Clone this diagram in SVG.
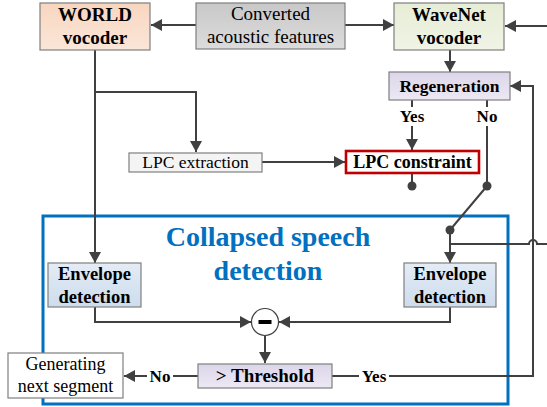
<svg xmlns="http://www.w3.org/2000/svg" width="547" height="407" viewBox="0 0 547 407">
<style>
.box{stroke:#7f7f7f;stroke-width:1.2}
.t{font-family:"Liberation Serif","Times New Roman",serif;fill:#000;text-anchor:middle}
.b{font-weight:bold}
.ln{fill:none;stroke:#404040;stroke-width:2}
.arr{marker-end:url(#ah)}
.dot{fill:#404040}
</style>
<defs>
<marker id="ah" markerUnits="userSpaceOnUse" markerWidth="12" markerHeight="12" refX="11" refY="6" orient="auto">
<path d="M0,0 L11,6 L0,12 z" fill="#404040"/>
</marker>
<linearGradient id="gWorld" x1="0" y1="0" x2="0" y2="1"><stop offset="0" stop-color="#f8d6c0"/><stop offset="1" stop-color="#fbe6d8"/></linearGradient>
<linearGradient id="gConv" x1="0" y1="0" x2="0" y2="1"><stop offset="0" stop-color="#c8c8c8"/><stop offset="1" stop-color="#dcdcdc"/></linearGradient>
<linearGradient id="gWave" x1="0" y1="0" x2="0" y2="1"><stop offset="0" stop-color="#e6edd6"/><stop offset="1" stop-color="#f0f4e6"/></linearGradient>
<linearGradient id="gLav" x1="0" y1="0" x2="0" y2="1"><stop offset="0" stop-color="#ddd6ea"/><stop offset="1" stop-color="#ece8f3"/></linearGradient>
<linearGradient id="gEnv" x1="0" y1="0" x2="0" y2="1"><stop offset="0" stop-color="#e4ecf6"/><stop offset="1" stop-color="#cddcec"/></linearGradient>
</defs>
<rect width="547" height="407" fill="#fff"/>

<g id="collapsed-speech-detection">
<rect x="43" y="216" width="465" height="188" fill="none" stroke="#0070c0" stroke-width="3"/>
<text class="t b" x="268" y="246" font-size="28" style="fill:#0070c0">Collapsed speech</text>
<text class="t b" x="268" y="280" font-size="28" style="fill:#0070c0">detection</text>
</g>

<g id="connectors">
<line class="ln arr" x1="196" y1="25" x2="151" y2="25"/>
<line class="ln arr" x1="345" y1="25" x2="394" y2="25"/>
<line class="ln arr" x1="547" y1="26" x2="505" y2="26"/>
<line class="ln arr" x1="450" y1="50" x2="450" y2="72"/>
<polyline class="ln arr" points="95,50 95,263"/>
<polyline class="ln arr" points="95,92 196,92 196,152"/>
<line class="ln arr" x1="262" y1="162" x2="345" y2="162"/>
<line class="ln" x1="412" y1="100" x2="412" y2="107"/>
<line class="ln arr" x1="412" y1="126" x2="412" y2="150"/>
<line class="ln" x1="487" y1="100" x2="487" y2="107"/>
<line class="ln" x1="487" y1="126" x2="487" y2="186"/>
<line class="ln" x1="412" y1="173" x2="412" y2="186"/>
<circle class="dot" cx="412" cy="186" r="4.5"/>
<circle class="dot" cx="487" cy="186" r="4.5"/>
<line class="ln" x1="487" y1="186" x2="450" y2="230"/>
<circle class="dot" cx="450" cy="230" r="4.5"/>
<line class="ln arr" x1="450" y1="230" x2="450" y2="263"/>
<path class="ln" d="M450,244 H529 A4,4 0 0 1 537,244 H547"/>
<polyline class="ln arr" points="95,307 95,322 251,322"/>
<polyline class="ln arr" points="450,307 450,322 279,322"/>
<line class="ln arr" x1="265" y1="336" x2="265" y2="363"/>
<line class="ln" x1="198" y1="376" x2="173" y2="376"/>
<line class="ln arr" x1="147" y1="376" x2="124" y2="376"/>
<line class="ln" x1="332" y1="376" x2="359" y2="376"/>
<polyline class="ln arr" points="389,376 533,376 533,86 510,86"/>
<text class="t b" x="412" y="122" font-size="17">Yes</text>
<text class="t b" x="487" y="122" font-size="17">No</text>
<text class="t b" x="160" y="382" font-size="17">No</text>
<text class="t b" x="374" y="382" font-size="17">Yes</text>
</g>

<g id="world-vocoder">
<rect class="box" x="40" y="3" width="110" height="47" fill="url(#gWorld)"/>
<text class="t b" x="95" y="21" font-size="19">WORLD</text>
<text class="t b" x="95" y="44" font-size="19">vocoder</text>
</g>

<g id="converted-features">
<rect class="box" x="196" y="3" width="149" height="46" fill="url(#gConv)"/>
<text class="t" x="270.5" y="20" font-size="19">Converted</text>
<text class="t" x="270.5" y="43" font-size="19">acoustic features</text>
</g>

<g id="wavenet-vocoder">
<rect class="box" x="394" y="3" width="110" height="47" fill="url(#gWave)"/>
<text class="t b" x="449" y="21" font-size="19">WaveNet</text>
<text class="t b" x="449" y="44" font-size="19">vocoder</text>
</g>

<g id="regeneration">
<rect class="box" x="389" y="72" width="121" height="28" fill="url(#gLav)"/>
<text class="t b" x="449.5" y="92" font-size="17.5">Regeneration</text>
</g>

<g id="lpc-extraction">
<rect class="box" x="129" y="153" width="133" height="19" fill="#f4f4f4"/>
<text class="t" x="195.5" y="168" font-size="17.5">LPC extraction</text>
</g>

<g id="lpc-constraint">
<rect x="346" y="151" width="133" height="22" fill="#fdfdfd" stroke="#c00000" stroke-width="2.6"/>
<text class="t b" x="412.5" y="168" font-size="18">LPC constraint</text>
</g>

<g id="envelope-left">
<rect class="box" x="48" y="263" width="93" height="44" fill="url(#gEnv)"/>
<text class="t b" x="94.5" y="280" font-size="18.5">Envelope</text>
<text class="t b" x="94.5" y="303" font-size="18.5">detection</text>
</g>

<g id="envelope-right">
<rect class="box" x="404" y="263" width="92" height="44" fill="url(#gEnv)"/>
<text class="t b" x="450" y="280" font-size="18.5">Envelope</text>
<text class="t b" x="450" y="303" font-size="18.5">detection</text>
</g>

<g id="subtract">
<circle cx="265" cy="322" r="13.5" fill="#fff" stroke="#404040" stroke-width="1.2"/>
<rect x="258.5" y="320" width="13" height="4" fill="#000"/>
</g>

<g id="threshold">
<rect class="box" x="198" y="364" width="134" height="24" fill="url(#gLav)"/>
<text class="t b" x="265" y="382" font-size="19">&gt; Threshold</text>
</g>

<g id="generating-next-segment">
<rect class="box" x="8" y="353" width="115" height="45" fill="#fff"/>
<text class="t" x="65.5" y="370" font-size="18">Generating</text>
<text class="t" x="65.5" y="392" font-size="18">next segment</text>
</g>
</svg>
